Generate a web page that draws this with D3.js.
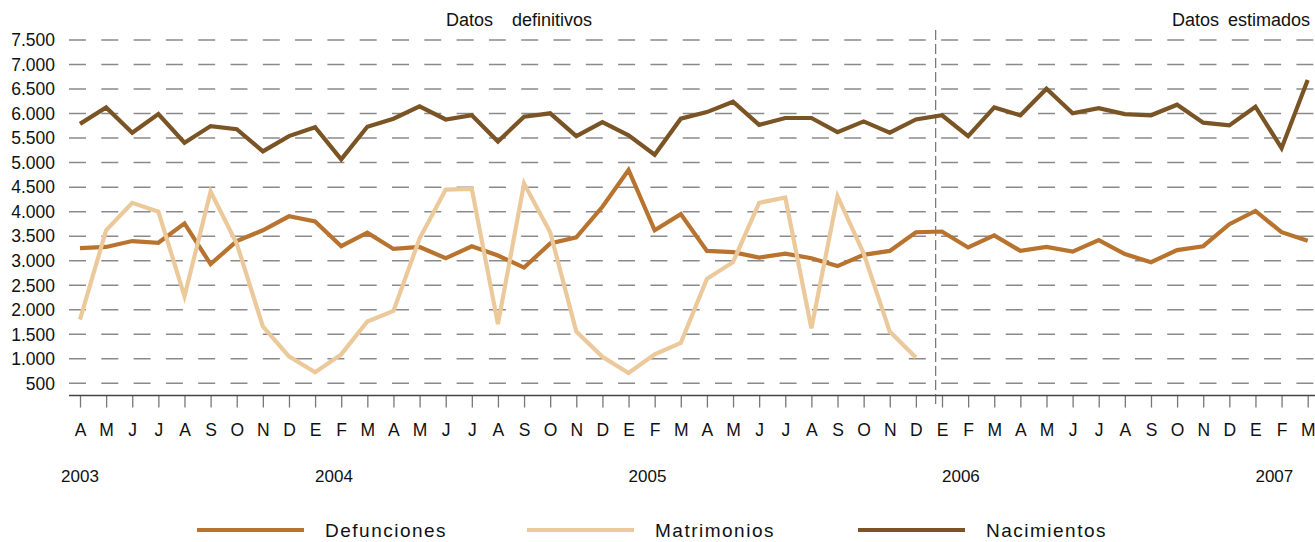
<!DOCTYPE html>
<html>
<head>
<meta charset="utf-8">
<script src="https://cdn.jsdelivr.net/npm/d3@7"></script>
<style>
  body { margin: 0; background: #fff; }
  svg { display: block; font-family: "Liberation Sans", Arial, sans-serif; }
</style>
</head>
<body>
<div id="chart"></div>
<script>
// months from April 2003 to March 2007
const months = ["A","M","J","J","A","S","O","N","D",
  "E","F","M","A","M","J","J","A","S","O","N","D",
  "E","F","M","A","M","J","J","A","S","O","N","D",
  "E","F","M","A","M","J","J","A","S","O","N","D",
  "E","F","M"];
const years = ["2003","2004","2005","2006","2007"];
const yearIndex = [0, 9, 21, 33, 45];
const yTicks = [500,1000,1500,2000,2500,3000,3500,4000,4500,5000,5500,6000,6500,7000,7500];

const defunciones = [3255,3280,3400,3365,3760,2930,3400,3620,3905,3800,3295,3570,3240,3280,
  3050,3295,3105,2860,3350,3475,4100,4850,3620,3950,3200,3175,3065,3145,3050,2890,3120,
  3200,3580,3595,3270,3515,3200,3280,3185,3420,3135,2970,3215,3295,3745,4015,3580,3405];
const matrimonios = [1800,3620,4180,4000,2275,4410,3350,1660,1050,725,1090,1760,1975,3450,
  4450,4465,1705,4575,3580,1555,1040,710,1090,1325,2630,2970,4180,4290,1620,4315,3150,
  1555,1025];
const nacimientos = [5790,6125,5610,5990,5405,5745,5680,5230,5540,5720,5065,5730,5895,6145,
  5880,5965,5430,5935,6005,5540,5825,5555,5160,5895,6030,6240,5770,5910,5910,5620,5840,
  5610,5880,5965,5540,6125,5965,6505,6005,6110,5990,5965,6180,5815,5760,6140,5295,6685];

const series = [
  {name: "Defunciones", values: defunciones, color: "#b8742f"},
  {name: "Matrimonios", values: matrimonios, color: "#ecc99a"},
  {name: "Nacimientos", values: nacimientos, color: "#7a5425"}
];

const w = 1315, h = 542;
const svg = d3.select("#chart").append("svg").attr("width", w).attr("height", h);

const x = d3.scaleLinear().domain([0, months.length - 1]).range([80, 1307.7]);
const y = d3.scaleLinear().domain([500, 7500]).range([383.3, 40]);
const fmt = d3.formatLocale({decimal: ",", thousands: ".", grouping: [3], currency: ["", "€"]}).format(",d");

// grid
svg.append("g").selectAll("line")
  .data(yTicks)
  .join("line")
  .attr("x1", 69).attr("x2", w)
  .attr("y1", d => y(d)).attr("y2", d => y(d))
  .attr("stroke", "#8a8a8a")
  .attr("stroke-width", 1.5)
  .attr("stroke-dasharray", "17,15.3");

svg.append("g").selectAll("text")
  .data(yTicks)
  .join("text")
  .attr("x", 55).attr("y", d => y(d))
  .attr("dy", "0.36em")
  .attr("text-anchor", "end")
  .attr("font-size", 17.5)
  .attr("fill", "#111")
  .text(d => fmt(d));

// x axis
const xAxis = svg.append("g")
  .attr("transform", `translate(0,${y(250)})`)
  .call(d3.axisBottom(x).tickValues(d3.range(months.length)).tickFormat(i => months[i])
    .tickSize(12).tickSizeOuter(0).tickPadding(16));
xAxis.select(".domain").remove();
xAxis.selectAll(".tick line").attr("stroke", "#777").attr("stroke-width", 1.3);
xAxis.selectAll(".tick text").attr("font-size", 17.5).attr("fill", "#111").attr("font-family", "Liberation Sans, Arial, sans-serif");

svg.append("line")
  .attr("x1", 69).attr("x2", w)
  .attr("y1", y(250)).attr("y2", y(250))
  .attr("stroke", "#444").attr("stroke-width", 1.5);

// year labels
svg.append("g").selectAll("text")
  .data(years)
  .join("text")
  .attr("x", (d, i) => x(yearIndex[i]))
  .attr("y", 482)
  .attr("text-anchor", (d, i) => i === 0 ? "middle" : "start")
  .attr("font-size", 17)
  .attr("fill", "#111")
  .text(d => d);

// divider between definitive and estimated data
svg.append("line")
  .attr("x1", x(32.76)).attr("x2", x(32.76))
  .attr("y1", 30).attr("y2", 407)
  .attr("stroke", "#555").attr("stroke-width", 1)
  .attr("stroke-dasharray", "10,4");

const header = svg.append("g").attr("font-size", 18).attr("fill", "#111");
header.append("text").attr("x", 446).attr("y", 26).text("Datos");
header.append("text").attr("x", 512).attr("y", 26).text("definitivos");
header.append("text").attr("x", 1172).attr("y", 26).text("Datos");
header.append("text").attr("x", 1228).attr("y", 26).text("estimados");

// lines
const line = d3.line().x((d, i) => x(i)).y(d => y(d));
svg.append("g").selectAll("path")
  .data(series)
  .join("path")
  .attr("d", d => line(d.values))
  .attr("fill", "none")
  .attr("stroke", d => d.color)
  .attr("stroke-width", 4.2)
  .attr("stroke-linejoin", "miter");

// legend
const legendX = [197, 527, 858];
const legend = svg.append("g").selectAll("g")
  .data(series)
  .join("g")
  .attr("transform", (d, i) => `translate(${legendX[i]},530)`);
legend.append("line")
  .attr("x1", 0).attr("x2", 107)
  .attr("stroke", d => d.color).attr("stroke-width", 4);
legend.append("text")
  .attr("x", 128).attr("dy", "0.36em")
  .attr("font-size", 19)
  .attr("letter-spacing", 1.5)
  .attr("fill", "#111")
  .text(d => d.name);
</script>
</body>
</html>
